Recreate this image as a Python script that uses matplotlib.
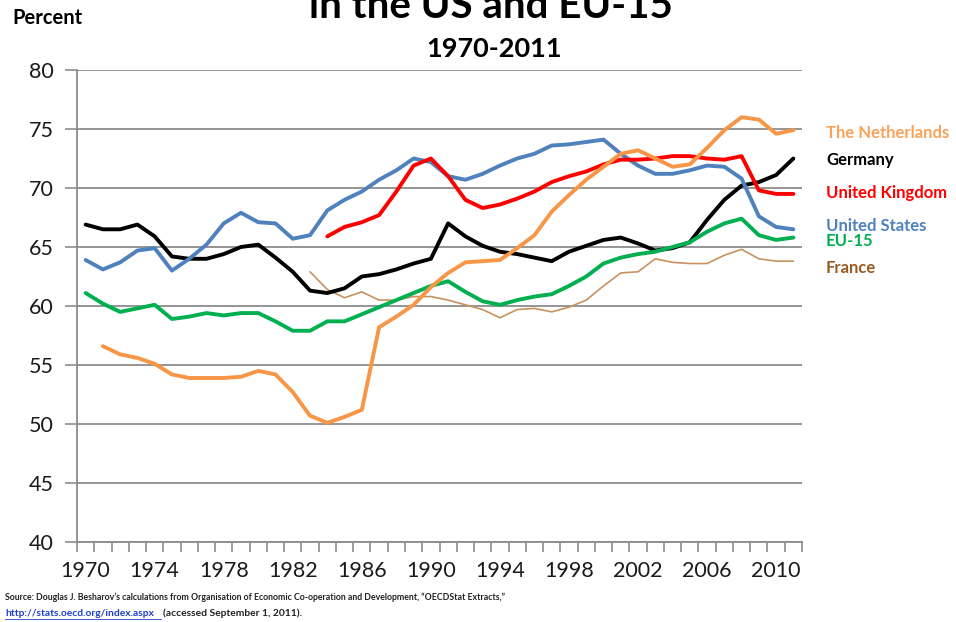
import numpy as np
import matplotlib
matplotlib.use("Agg")
import matplotlib.pyplot as plt

years = list(range(1970, 2012))
tick_years = [1970, 1974, 1978, 1982, 1986, 1990, 1994, 1998, 2002, 2006, 2010]

germany = [66.9, 66.5, 66.5, 66.9, 65.9, 64.2, 64.0, 64.0, 64.4, 65.0,
           65.2, 64.1, 62.9, 61.3, 61.1, 61.5, 62.5, 62.7, 63.1, 63.6,
           64.0, 67.0, 65.9, 65.1, 64.6, 64.4, 64.1, 63.8, 64.6, 65.1,
           65.6, 65.8, 65.3, 64.7, 64.9, 65.4, 67.3, 69.0, 70.2, 70.5,
           71.1, 72.5]
netherlands = [None, 56.6, 55.9, 55.6, 55.1, 54.2, 53.9, 53.9, 53.9, 54.0,
               54.5, 54.2, 52.7, 50.7, 50.1, 50.6, 51.2, 58.2, 59.1, 60.1,
               61.6, 62.8, 63.7, 63.8, 63.9, 64.9, 66.0, 68.0, 69.4, 70.7,
               71.8, 72.9, 73.2, 72.5, 71.8, 72.0, 73.4, 74.9, 76.0, 75.8,
               74.6, 74.9]
united_states = [63.9, 63.1, 63.7, 64.7, 64.9, 63.0, 64.0, 65.2, 67.0, 67.9,
                 67.1, 67.0, 65.7, 66.0, 68.1, 69.0, 69.7, 70.7, 71.5, 72.5,
                 72.2, 71.0, 70.7, 71.2, 71.9, 72.5, 72.9, 73.6, 73.7, 73.9,
                 74.1, 72.9, 71.9, 71.2, 71.2, 71.5, 71.9, 71.8, 70.8, 67.6,
                 66.7, 66.5]
united_kingdom = [None] * 14 + [65.9, 66.7, 67.1, 67.7, 69.7, 71.9,
                  72.5, 71.0, 69.0, 68.3, 68.6, 69.1, 69.7, 70.5, 71.0, 71.4,
                  72.0, 72.4, 72.4, 72.5, 72.7, 72.7, 72.5, 72.4, 72.7, 69.8,
                  69.5, 69.5]
eu15 = [61.1, 60.2, 59.5, 59.8, 60.1, 58.9, 59.1, 59.4, 59.2, 59.4,
        59.4, 58.7, 57.9, 57.9, 58.7, 58.7, 59.3, 59.9, 60.5, 61.1,
        61.7, 62.1, 61.2, 60.4, 60.1, 60.5, 60.8, 61.0, 61.7, 62.5,
        63.6, 64.1, 64.4, 64.6, 65.0, 65.4, 66.3, 67.0, 67.4, 66.0,
        65.6, 65.8]
france = [None] * 13 + [62.9, 61.4, 60.7, 61.2, 60.5, 60.5, 60.8,
          60.8, 60.5, 60.1, 59.7, 59.0, 59.7, 59.8, 59.5, 59.9, 60.5,
          61.7, 62.8, 62.9, 64.0, 63.7, 63.6, 63.6, 64.3, 64.8, 64.0,
          63.8, 63.8]

series = [
    ("France", france, "#C8925E", 1.2, "#9A5A20"),
    ("Germany", germany, "#000000", 2.8, "#000000"),
    ("United States", united_states, "#4F81BD", 2.8, "#4F81BD"),
    ("United Kingdom", united_kingdom, "#FF0000", 2.8, "#FF0000"),
    ("EU-15", eu15, "#00B050", 2.8, "#00B050"),
    ("The Netherlands", netherlands, "#F79646", 2.8, "#F9A25A"),
]
label_y = {"The Netherlands": 133, "Germany": 160, "United Kingdom": 193,
           "United States": 226, "EU-15": 241, "France": 268}

W, H = 956, 622
fig = plt.figure(figsize=(W / 100, H / 100), dpi=100)
ax = fig.add_axes([77 / W, 1 - 542 / H, (802 - 77) / W, (542 - 70) / H])

x = np.arange(len(years))
for name, vals, col, lw, lcol in series:
    v = np.array([np.nan if a is None else a for a in vals], dtype=float)
    ax.plot(x, v, color=col, lw=lw, solid_joinstyle="round", solid_capstyle="round", zorder=3)

grid_col = "#8C8C8C"
ax.set_xlim(-0.5, len(years) - 0.5)
ax.set_ylim(40, 80)
ax.set_yticks(np.arange(40, 81, 5))
ax.yaxis.grid(True, color=grid_col, lw=1.3)
ax.set_axisbelow(True)
for s in ["top", "right"]:
    ax.spines[s].set_visible(False)
for s in ["left", "bottom"]:
    ax.spines[s].set_color(grid_col)
    ax.spines[s].set_linewidth(1.3)

ax.set_xticks(np.arange(-0.5, len(years), 1.0))
ax.set_xticklabels([])
ax.tick_params(axis="x", which="major", length=7, width=1.2, color=grid_col, direction="out")
ax.set_xticks([years.index(y) for y in tick_years], minor=True)
ax.set_xticklabels([str(y) for y in tick_years], minor=True)
ax.tick_params(axis="x", which="minor", length=0, pad=14, labelsize=15.5)
ax.tick_params(axis="y", length=9, width=1.2, color=grid_col, direction="out", pad=8, labelsize=15.5)
for lab in ax.get_xticklabels(minor=True) + ax.get_yticklabels():
    lab.set_fontfamily("Lato")
    lab.set_color("#1a1a1a")

fig.text(491 / W, 1 - 18 / H, "in the US and EU-15", ha="center", va="baseline",
         fontsize=29, fontweight="bold", family="Lato")
fig.text(494 / W, 1 - 49 / H, "1970-2011", ha="center", va="center",
         fontsize=19.5, fontweight="bold", family="Lato")
fig.text(12 / W, 1 - 18 / H, "Percent", ha="left", va="center",
         fontsize=14.5, fontweight="bold", family="Lato")

for name, vals, col, lw, lcol in series:
    fig.text(826 / W, 1 - label_y[name] / H, name, ha="left", va="center",
             fontsize=12, fontweight="bold", family="Lato", color=lcol)

fig.text(5 / W, 1 - 597 / H,
         "Source: Douglas J. Besharov\u2019s calculations from Organisation of Economic Co-operation and Development, \u201cOECDStat Extracts,\u201d",
         ha="left", va="center", fontsize=6.3, family="Lato", fontweight="bold", color="#222222")
url = fig.text(5 / W, 1 - 613 / H, "http://stats.oecd.org/index.aspx", ha="left", va="center",
               fontsize=7.4, family="Lato", fontweight="bold", color="#1F3FD0")
fig.text(163 / W, 1 - 613 / H, "(accessed September 1, 2011).", ha="left", va="center",
         fontsize=7.4, family="Lato", fontweight="bold", color="#222222")
fig.add_artist(plt.Line2D([5 / W, 161 / W], [1 - 619 / H, 1 - 619 / H], color="#1F3FD0", lw=0.6))

fig.savefig("out.png", dpi=100)
